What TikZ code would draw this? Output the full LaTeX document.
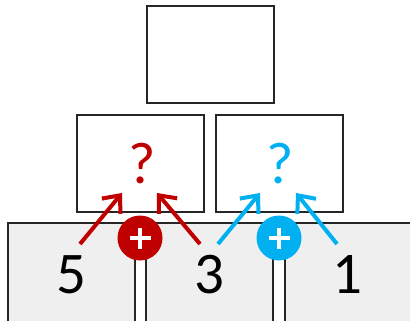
\documentclass[tikz,border=0pt]{standalone}
\usepackage{fontspec}
\setmainfont{Carlito}
\usetikzlibrary{arrows.meta}
\definecolor{sumred}{HTML}{C00000}
\definecolor{sumblue}{HTML}{00B0F0}
\definecolor{cellgray}{HTML}{EFEFEF}
\tikzset{
  cell/.style={draw=black!85, line width=2pt, minimum width=127pt, minimum height=97pt, inner sep=0pt},
  basecell/.style={cell, fill=cellgray, minimum height=100pt},
  num/.style={font=\fontsize{59}{59}\selectfont, inner sep=0pt},
  addarrow/.style={line width=4pt, -{Straight Barb[length=14pt, width=24pt, line width=4pt]}},
  plusdot/.style={circle, minimum size=45pt, inner sep=0pt}
}
\begin{document}
\begin{tikzpicture}[x=1pt, y=-1pt]
    %%%%% START %%%%%
    \useasboundingbox (0,0) rectangle (410,321);
    \clip (0,0) rectangle (410,321);

    \node[cell] (top) at (210,54.5) {};

    \node[cell] (midL) at (140.5,163.5) {};
    \node[cell] (midR) at (279,163.5) {};

    \node[basecell] (botL) at (71.5,273) {};
    \node[basecell] (botM) at (209.5,273) {};
    \node[basecell] (botR) at (348.5,273) {};

    \node[num] (five) at (71.7,274.5) {5};
    \node[num] (three) at (209,274.5) {3};
    \node[num] (one) at (347.5,274.5) {1};

    \node[num, text=sumred] (qL) at (142,164) {?};
    \node[num, text=sumblue] (qR) at (280,164) {?};

    % arrows
    \coordinate (aL1) at (80,244);
    \coordinate (aL2) at (200,244);
    \coordinate (aR1) at (218,244);
    \coordinate (aR2) at (337,244);
    \coordinate (hL1) at (122,193);
    \coordinate (hL2) at (157,193);
    \coordinate (hR1) at (260,193);
    \coordinate (hR2) at (296,193);
    \draw[addarrow, sumred] (aL1) -- (hL1);
    \draw[addarrow, sumred] (aL2) -- (hL2);
    \draw[addarrow, sumblue] (aR1) -- (hR1);
    \draw[addarrow, sumblue] (aR2) -- (hR2);

    % plus signs
    \node[plusdot, fill=sumred] (plusL) at (140,238) {};
    \node[plusdot, fill=sumblue] (plusR) at (279,238) {};
    \draw[white, line width=4pt] ([xshift=-10.5pt]plusL.center) -- ([xshift=10.5pt]plusL.center);
    \draw[white, line width=4pt] ([yshift=-10.5pt]plusL.center) -- ([yshift=10.5pt]plusL.center);
    \draw[white, line width=4pt] ([xshift=-10.5pt]plusR.center) -- ([xshift=10.5pt]plusR.center);
    \draw[white, line width=4pt] ([yshift=-10.5pt]plusR.center) -- ([yshift=10.5pt]plusR.center);
    %%%%% END %%%%%
\end{tikzpicture}
\end{document}
